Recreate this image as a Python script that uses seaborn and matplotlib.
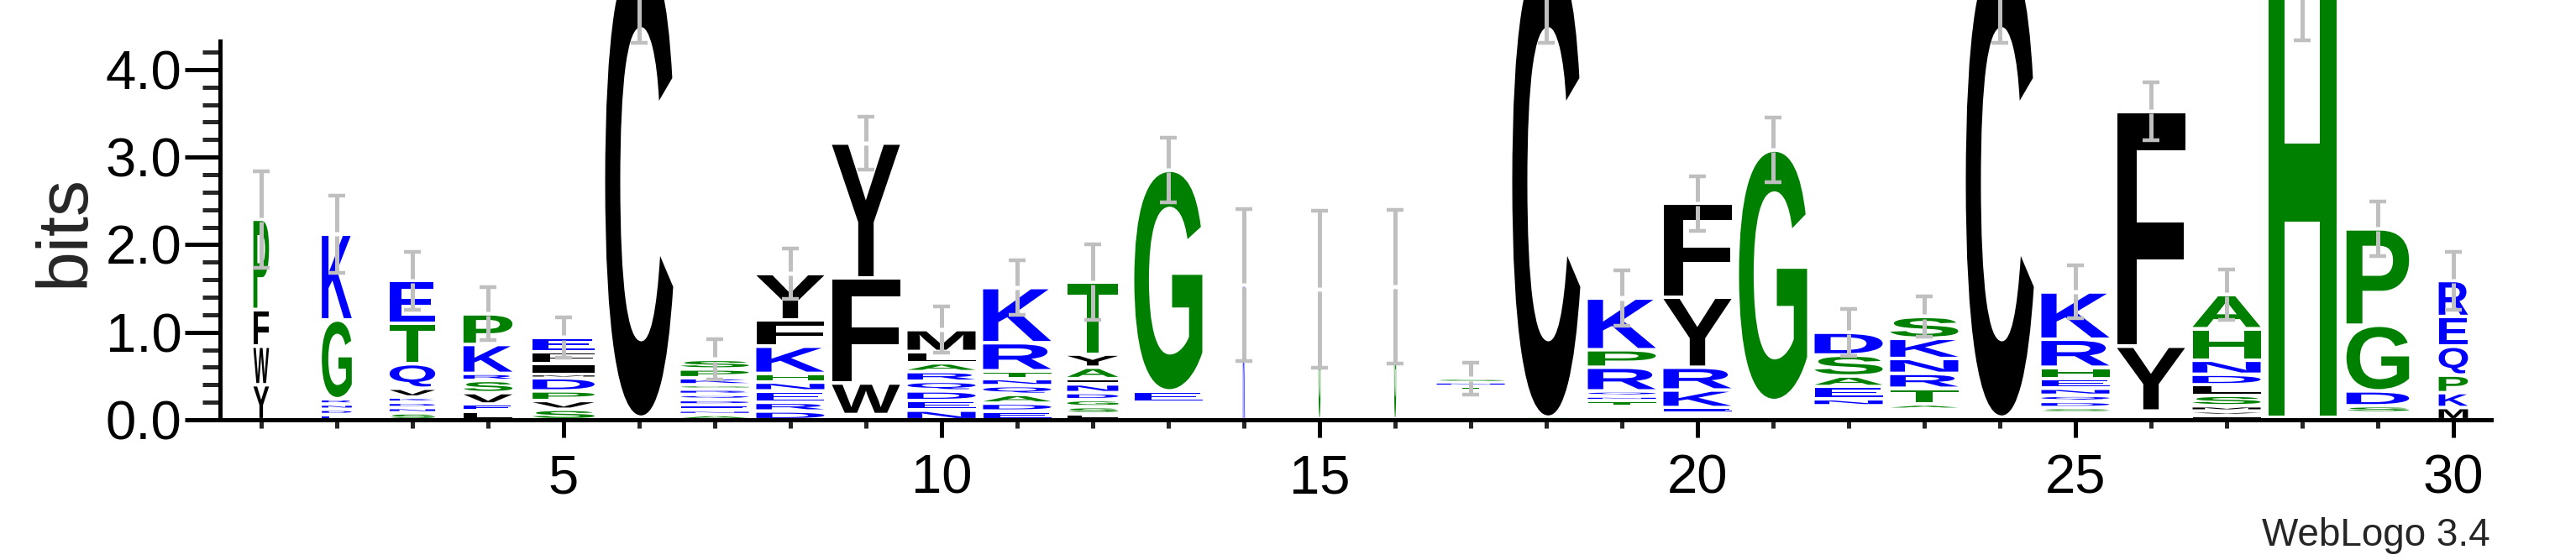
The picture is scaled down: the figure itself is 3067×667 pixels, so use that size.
import numpy as np
import matplotlib
matplotlib.use("Agg")
import matplotlib.pyplot as plt
import seaborn as sns
from matplotlib.textpath import TextPath
from matplotlib.font_manager import FontProperties
from matplotlib.patches import PathPatch
from matplotlib.transforms import Affine2D
from matplotlib.ticker import MultipleLocator, FormatStrFormatter

# ---- data read off the logo (bottom -> top, bits) ----
# '.' = low-information residues too thin to show
positions = list(range(1, 31))

stack_letters = [
    "YWFP", "EDNRGK", "SNDKVQTE", "LEVSRKP", "SVPDMIFE",
    ".C", "ANEDQRGKPS", "DRENHKFY", ".WFY", "NEDQRALM",
    "EDAQNTRK", "LSGDNIAYT", ".EG", "K", "G",
    "G", ".TNS", "GC", ".TNQRPK", ".EKRYF",
    ".G", ".NEASD", ".ATRNKS", ".C", ".SDQNEHRK",
    ".YF", "IVMSLDNHA", ".H", ".SDGP", "MKPQER",
]

stack_heights = [
    [0.40, 0.44, 0.42, 1.03],
    [0.06, 0.06, 0.06, 0.06, 0.90, 0.98],
    [0.08, 0.06, 0.06, 0.06, 0.10, 0.28, 0.46, 0.49],
    [0.10, 0.08, 0.13, 0.14, 0.08, 0.33, 0.35],
    [0.12, 0.10, 0.11, 0.15, 0.04, 0.12, 0.14, 0.16],
    [0.03, 5.32],
    [0.06, 0.05, 0.06, 0.06, 0.06, 0.06, 0.05, 0.08, 0.10, 0.11],
    [0.10, 0.10, 0.13, 0.10, 0.10, 0.31, 0.30, 0.53],
    [0.06, 0.36, 1.20, 1.54],
    [0.11, 0.11, 0.11, 0.11, 0.11, 0.10, 0.13, 0.25],
    [0.10, 0.09, 0.10, 0.10, 0.08, 0.09, 0.32, 0.63],
    [0.07, 0.08, 0.08, 0.08, 0.10, 0.06, 0.13, 0.15, 0.82],
    [0.20, 0.13, 2.52],
    [1.54],
    [1.49],
    [1.52],
    [0.34, 0.045, 0.045, 0.04],
    [0.03, 5.32],
    [0.15, 0.07, 0.05, 0.06, 0.27, 0.20, 0.59],
    [0.08, 0.06, 0.20, 0.26, 0.80, 1.07],
    [0.22, 2.86],
    [0.16, 0.08, 0.14, 0.12, 0.24, 0.26],
    [0.12, 0.06, 0.18, 0.17, 0.17, 0.23, 0.25],
    [0.03, 5.32],
    [0.08, 0.06, 0.07, 0.07, 0.08, 0.11, 0.13, 0.32, 0.54],
    [0.10, 0.74, 2.68],
    [0.05, 0.05, 0.06, 0.12, 0.12, 0.12, 0.16, 0.36, 0.39],
    [0.03, 5.20],
    [0.08, 0.08, 0.17, 0.75, 1.10],
    [0.14, 0.17, 0.20, 0.33, 0.34, 0.41],
]

# half length of the error bar on each column
errors = [0.55, 0.44, 0.33, 0.30, 0.23, 1.05, 0.23, 0.29, 0.30, 0.26,
          0.31, 0.43, 0.37, 0.87, 0.90, 0.88, 0.18, 1.05, 0.32, 0.31,
          0.37, 0.27, 0.23, 1.05, 0.30, 0.33, 0.29, 0.90, 0.31, 0.33]

# stack width as a fraction of a full column (share of non-gap residues)
col_width = [0.23, 0.44, 0.67, 0.72, 0.91, 1.0, 1.0, 1.0, 1.0, 1.0,
             1.0, 0.75, 1.0, 0.03, 0.03, 0.03, 1.0, 1.0, 1.0, 1.0,
             1.0, 1.0, 1.0, 1.0, 1.0, 1.0, 1.0, 1.0, 0.92, 0.43]

# hydrophobicity colour scheme
color_groups = {
    "RKDENQ": "#0000FF",
    "SGHTAP": "#008000",
    "YVMCLFIW": "#000000",
}
colors = {aa: c for grp, c in color_groups.items() for aa in grp}

# ---- plot ----
sns.set_style("ticks")
plt.rcParams["font.family"] = ["Liberation Sans", "DejaVu Sans"]

fig = plt.figure(figsize=(30.67, 6.67), dpi=100)
ax = fig.add_axes([266 / 3067, 167 / 667, 2700 / 3067, 450.6 / 667])

glyph_font = FontProperties(family="Liberation Sans", weight="bold")


def draw_letter(ax, ch, x, y, w, h, color):
    path = TextPath((0, 0), ch, size=1, prop=glyph_font)
    ext = path.get_extents()
    tr = (Affine2D()
          .translate(-ext.x0, -ext.y0)
          .scale(w / ext.width, h / ext.height)
          .translate(x - w / 2, y))
    patch = PathPatch(tr.transform_path(path), facecolor=color, lw=0,
                      clip_on=False, zorder=2)
    ax.add_patch(patch)


letter_w = 0.9
gap = 0.04
for pos, lets, hts, cw in zip(positions, stack_letters, stack_heights, col_width):
    base = 0.0
    for ch, h in zip(lets, hts):
        if ch != ".":
            lh = max(h - gap, 0.012)
            draw_letter(ax, ch, pos, base + (h - lh) / 2, letter_w * cw,
                        lh, colors[ch])
        base += h

tops = np.array([sum(h) for h in stack_heights])
errs = np.array(errors)
pos_arr = np.array(positions)
gray = "#BFBFBF"
notch = 0.025
ax.vlines(pos_arr, tops + notch, tops + errs, color=gray, lw=3.6,
          zorder=3, clip_on=False)
ax.vlines(pos_arr, tops - errs, tops - notch, color=gray, lw=3.6,
          zorder=3, clip_on=False)
ax.hlines(tops + errs, pos_arr - 0.115, pos_arr + 0.115, color=gray, lw=3.2,
          zorder=3, clip_on=False)
ax.hlines(tops - errs, pos_arr - 0.115, pos_arr + 0.115, color=gray, lw=3.2,
          zorder=3, clip_on=False)

ax.set_xlim(0.5, 30.5)
ax.set_ylim(0, 4.32)

ax.xaxis.set_major_locator(MultipleLocator(5))
ax.xaxis.set_minor_locator(MultipleLocator(1))
ax.yaxis.set_major_locator(MultipleLocator(1))
ax.yaxis.set_minor_locator(MultipleLocator(0.2))
ax.yaxis.set_major_formatter(FormatStrFormatter("%.1f"))

sns.despine(ax=ax, offset={"left": 3})
for side in ["left", "bottom"]:
    ax.spines[side].set_linewidth(3.6)
    ax.spines[side].set_color("black")

ax.tick_params(axis="y", which="major", length=30, width=3.6, pad=2.5,
               labelsize=47, colors="black")
ax.tick_params(axis="y", which="minor", length=15, width=3.6)
ax.tick_params(axis="x", which="major", length=15, width=3.6, pad=14,
               labelsize=47, colors="black")
ax.tick_params(axis="x", which="minor", length=7.5, width=3.6)

ax.set_ylabel("bits", fontsize=62, labelpad=6)
fig.text(2965 / 3067, 1 - 650 / 667, "WebLogo 3.4", ha="right",
         va="baseline", fontsize=33)

fig.savefig("out.png", dpi=100, facecolor="white")
